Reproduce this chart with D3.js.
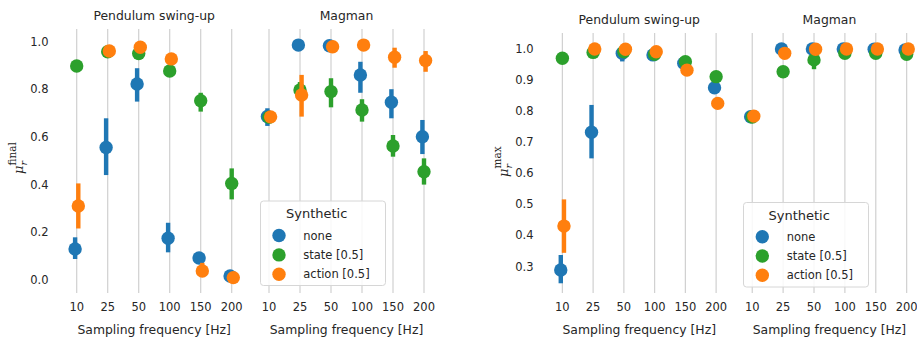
<!DOCTYPE html>
<html>
<head>
<meta charset="utf-8">
<script src="https://cdn.jsdelivr.net/npm/d3@7"></script>
<style>
  html, body { margin: 0; padding: 0; background: #fff; }
  svg { display: block; font-family: "DejaVu Sans", sans-serif; }
</style>
</head>
<body>
<svg id="chart" width="917" height="339"></svg>
<script>
// Sampling frequencies shown on every x axis
const freqs = ["10", "25", "50", "100", "150", "200"];
const envs = ["Pendulum swing-up", "Magman"];
const seriesNames = ["none", "state [0.5]", "action [0.5]"];
const seriesColors = ["#1f77b4", "#2ca02c", "#ff7f0e"];
const legendTitle = "Synthetic";
const xTitle = "Sampling frequency [Hz]";

const finalTicks = [0.0, 0.2, 0.4, 0.6, 0.8, 1.0];
const maxTicks = [0.3, 0.4, 0.5, 0.6, 0.7, 0.8, 0.9, 1.0];

// Final reward ratio: mean, lower and upper interval per series (none, state, action)
const finalPendulumMean = [
  [0.130, 0.556, 0.822, 0.175, 0.092, 0.017],
  [0.897, 0.957, 0.950, 0.876, 0.752, 0.405],
  [0.310, 0.960, 0.976, 0.927, 0.038, 0.010]
];
const finalPendulumLow = [
  [0.088, 0.440, 0.748, 0.116, 0.082, 0.010],
  [0.890, 0.950, 0.940, 0.866, 0.706, 0.338],
  [0.216, 0.955, 0.970, 0.920, 0.020, 0.005]
];
const finalPendulumHigh = [
  [0.179, 0.678, 0.888, 0.240, 0.100, 0.025],
  [0.905, 0.963, 0.958, 0.885, 0.785, 0.468],
  [0.405, 0.965, 0.982, 0.935, 0.072, 0.016]
];
const finalMagmanMean = [
  [0.686, 0.985, 0.982, 0.860, 0.745, 0.601],
  [0.682, 0.797, 0.790, 0.713, 0.562, 0.454],
  [0.684, 0.776, 0.978, 0.985, 0.934, 0.920]
];
const finalMagmanLow = [
  [0.646, 0.980, 0.975, 0.785, 0.678, 0.528],
  [0.670, 0.760, 0.724, 0.664, 0.517, 0.400],
  [0.675, 0.685, 0.972, 0.980, 0.890, 0.873]
];
const finalMagmanHigh = [
  [0.720, 0.990, 0.988, 0.915, 0.800, 0.671],
  [0.695, 0.830, 0.846, 0.758, 0.608, 0.510],
  [0.692, 0.860, 0.984, 0.990, 0.974, 0.960]
];

// Maximum reward ratio
const maxPendulumMean = [
  [0.289, 0.732, 0.986, 0.981, 0.954, 0.875],
  [0.970, 0.989, 0.991, 0.983, 0.959, 0.911],
  [0.430, 1.000, 0.999, 0.991, 0.932, 0.825]
];
const maxPendulumLow = [
  [0.246, 0.648, 0.960, 0.975, 0.948, 0.868],
  [0.965, 0.984, 0.986, 0.978, 0.953, 0.893],
  [0.344, 0.997, 0.996, 0.987, 0.927, 0.820]
];
const maxPendulumHigh = [
  [0.337, 0.820, 0.992, 0.987, 0.960, 0.882],
  [0.975, 0.994, 0.996, 0.988, 0.965, 0.920],
  [0.516, 1.000, 1.000, 0.995, 0.937, 0.830]
];
const maxMagmanMean = [
  [0.782, 1.000, 1.000, 1.000, 0.999, 0.997],
  [0.781, 0.927, 0.965, 0.986, 0.986, 0.983],
  [0.784, 0.986, 0.999, 1.000, 1.000, 1.000]
];
const maxMagmanLow = [
  [0.778, 0.996, 0.996, 0.996, 0.995, 0.993],
  [0.777, 0.918, 0.935, 0.980, 0.980, 0.977],
  [0.780, 0.982, 0.995, 0.996, 0.996, 0.996]
];
const maxMagmanHigh = [
  [0.786, 1.000, 1.000, 1.000, 1.000, 1.000],
  [0.785, 0.935, 0.990, 0.992, 0.992, 0.989],
  [0.788, 0.990, 1.000, 1.000, 1.000, 1.000]
];

const svg = d3.select("#chart");
const textColor = "#262626";
const gridColor = "#d0d0d0";
const fontSize = 12.4;
const tickSize = 11.5;

function drawPanel(cfg) {
  const g = svg.append("g");
  const y = d3.scaleLinear().domain(cfg.yDomain).range(cfg.yRange);

  // y tick labels (spines and tick marks hidden)
  g.selectAll(".ytick").data(cfg.yTicks).join("text")
    .attr("x", cfg.yLabelX)
    .attr("y", d => y(d))
    .attr("dy", "0.35em")
    .attr("text-anchor", "end")
    .attr("font-size", tickSize)
    .attr("fill", textColor)
    .text(d => d3.format(".1f")(d));

  // y axis label: mu_r with superscript
  const yl = g.append("g")
    .attr("transform", `translate(${cfg.yTitleX},${cfg.yTitleY}) rotate(-90)`)
    .attr("fill", textColor)
    .attr("font-family", "'DejaVu Serif', 'Liberation Serif', serif");
  yl.append("text").attr("x", -17).attr("y", 4)
    .attr("font-size", 13).attr("font-style", "italic").text("μ");
  yl.append("text").attr("x", -8.5).attr("y", 7.5)
    .attr("font-size", 9.5).attr("font-style", "italic").text("r");
  yl.append("text").attr("x", -8.5).attr("y", -3)
    .attr("font-size", 10.5).text(cfg.sup);

  cfg.envs.forEach((env, ei) => {
    const x = d3.scalePoint().domain(freqs).range(env.range).padding(0.5);
    const dodge = d3.scalePoint().domain(seriesNames).range([-1.6, 1.6]);
    const eg = g.append("g");

    // vertical grid lines
    eg.selectAll(".grid").data(freqs).join("line")
      .attr("x1", d => x(d)).attr("x2", d => x(d))
      .attr("y1", cfg.gridTop).attr("y2", cfg.gridBottom)
      .attr("stroke", gridColor).attr("stroke-width", 1.2);

    // subplot title
    eg.append("text")
      .attr("x", (env.range[0] + env.range[1]) / 2)
      .attr("y", cfg.titleY)
      .attr("dy", "0.35em")
      .attr("text-anchor", "middle")
      .attr("font-size", fontSize)
      .attr("fill", textColor)
      .text(envs[ei]);

    // x tick labels
    eg.selectAll(".xtick").data(freqs).join("text")
      .attr("x", d => x(d))
      .attr("y", cfg.xTickY)
      .attr("dy", "0.35em")
      .attr("text-anchor", "middle")
      .attr("font-size", tickSize)
      .attr("fill", textColor)
      .text(d => d);

    // x axis title
    eg.append("text")
      .attr("x", (x(freqs[0]) + x(freqs[freqs.length - 1])) / 2)
      .attr("y", cfg.xTitleY)
      .attr("dy", "0.35em")
      .attr("text-anchor", "middle")
      .attr("font-size", fontSize)
      .attr("fill", textColor)
      .text(xTitle);

    // points with confidence intervals, one series at a time
    seriesNames.forEach((s, si) => {
      const pts = freqs.map((f, fi) => ({
        f, m: env.mean[si][fi], lo: env.low[si][fi], hi: env.high[si][fi]
      }));
      const sg = eg.append("g");
      sg.selectAll("line").data(pts).join("line")
        .attr("x1", d => x(d.f) + dodge(s)).attr("x2", d => x(d.f) + dodge(s))
        .attr("y1", d => y(d.lo)).attr("y2", d => y(d.hi))
        .attr("stroke", seriesColors[si]).attr("stroke-width", 4.4)
        .attr("stroke-linecap", "butt");
      sg.selectAll("circle").data(pts).join("circle")
        .attr("cx", d => x(d.f) + dodge(s))
        .attr("cy", d => y(d.m))
        .attr("r", 6.7)
        .attr("fill", seriesColors[si]);
    });
  });

  // legend
  const L = cfg.legend;
  const lg = g.append("g");
  lg.append("rect")
    .attr("x", L.x).attr("y", L.y).attr("width", L.w).attr("height", L.h)
    .attr("rx", 3).attr("ry", 3)
    .attr("fill", "#ffffff").attr("fill-opacity", 0.85)
    .attr("stroke", "#d6d6d6").attr("stroke-width", 1);
  lg.append("text")
    .attr("x", L.titleX).attr("y", L.titleY).attr("dy", "0.35em")
    .attr("text-anchor", "middle")
    .attr("font-size", 13).attr("fill", textColor)
    .text(legendTitle);
  seriesNames.forEach((s, si) => {
    const yy = L.itemY + si * L.itemStep;
    lg.append("circle").attr("cx", L.markerX).attr("cy", yy).attr("r", 6.7)
      .attr("fill", seriesColors[si]);
    lg.append("text").attr("x", L.labelX).attr("y", yy).attr("dy", "0.35em")
      .attr("font-size", tickSize).attr("fill", textColor).text(s);
  });
}

drawPanel({
  yDomain: [0, 1], yRange: [280, 41.5], yTicks: finalTicks,
  yLabelX: 48.5, yTitleX: 19, yTitleY: 157, sup: "final",
  gridTop: 29, gridBottom: 293, titleY: 16, xTickY: 307, xTitleY: 330,
  envs: [
    { range: [61.2, 247.2], mean: finalPendulumMean, low: finalPendulumLow, high: finalPendulumHigh },
    { range: [253.5, 439.5], mean: finalMagmanMean, low: finalMagmanLow, high: finalMagmanHigh }
  ],
  legend: { x: 260.5, y: 201, w: 125, h: 84.5, titleX: 316.7, titleY: 213.5,
            markerX: 279, labelX: 303.3, itemY: 235.5, itemStep: 19.4 }
});

drawPanel({
  yDomain: [0.3, 1], yRange: [266.5, 49], yTicks: maxTicks,
  yLabelX: 533.5, yTitleX: 504, yTitleY: 160, sup: "max",
  gridTop: 33, gridBottom: 293, titleY: 20, xTickY: 307, xTitleY: 330,
  envs: [
    { range: [547, 731.5], mean: maxPendulumMean, low: maxPendulumLow, high: maxPendulumHigh },
    { range: [736.8, 922.1], mean: maxMagmanMean, low: maxMagmanLow, high: maxMagmanHigh }
  ],
  legend: { x: 743.5, y: 202.5, w: 125, h: 84.5, titleX: 799.2, titleY: 215,
            markerX: 762.3, labelX: 786.7, itemY: 236.7, itemStep: 19.3 }
});
</script>
</body>
</html>
